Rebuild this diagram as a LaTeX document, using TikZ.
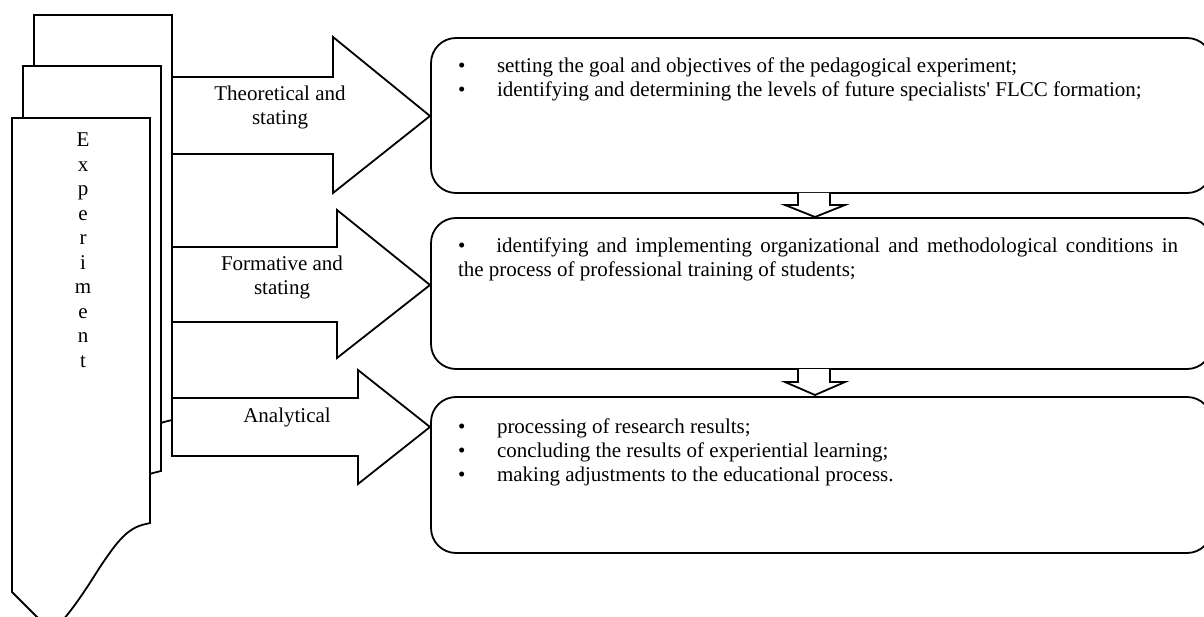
\documentclass[tikz,border=0pt]{standalone}
\usepackage{fontspec}
\setmainfont{Liberation Serif}
\begin{document}
\begin{tikzpicture}[x=1pt,y=-1pt,
  outline/.style={draw=black, line width=1.8pt, line join=miter, fill=white},
  stagebox/.style={draw=black, line width=1.8pt, rounded corners=25pt, fill=white,
    rectangle, minimum width=781pt, minimum height=155pt, outer sep=0pt, inner sep=0pt, anchor=north west},
  txt/.style={inner sep=0pt, outer sep=0pt, font=\fontsize{21}{24}\selectfont},
  vtxt/.style={inner sep=0pt, outer sep=0pt, font=\fontsize{21}{24.5}\selectfont}]
\useasboundingbox (0,0) rectangle (1204,617);
\clip (0,0) rectangle (1204,617);
% stacked pages (back, middle, front)
\foreach \dx/\dy in {22/-103, 11/-52, 0/0}{
  \path[outline, shift={(\dx,\dy)}] (12,118) -- (150,118) -- (150,523) -- (142,525)
    .. controls (125,530) and (115,545) .. (100,567)
    .. controls (88,586) and (72,612) .. (52,632) -- (12,592) -- cycle;
}
\node[vtxt, anchor=base] (exp) at (83,147) {\begin{tabular}[t]{@{}c@{}}E\\x\\p\\e\\r\\i\\m\\e\\n\\t\end{tabular}};
% block arrows
\path[outline] (172,77) -- (333,77) -- (333,37) -- (430,116) -- (333,193) -- (333,154) -- (172,154) -- cycle;
\path[outline] (172,247) -- (337,247) -- (337,210) -- (430,285) -- (337,358) -- (337,322) -- (172,322) -- cycle;
\path[outline] (172,398) -- (358,398) -- (358,370) -- (430,427) -- (358,484) -- (358,456) -- (172,456) -- cycle;
\node[txt, anchor=base] (lbl1) at (280,101) {\begin{tabular}[t]{@{}c@{}}Theoretical and\\stating\end{tabular}};
\node[txt, anchor=base] (lbl2) at (282,271) {\begin{tabular}[t]{@{}c@{}}Formative and\\stating\end{tabular}};
\node[txt, anchor=base] (lbl3) at (287,422) {Analytical};
% stage boxes
\node[stagebox] (box1) at (431,38) {};
\node[stagebox, minimum height=151pt] (box2) at (431,218) {};
\node[stagebox, minimum height=156pt] (box3) at (431,397) {};
% small down arrows
\path[outline] (798,193) -- (798,205) -- (785,205) -- (815,217) -- (845,205) -- (830,205) -- (830,193);
\path[outline] (798,369) -- (798,382) -- (785,382) -- (815,395) -- (845,382) -- (830,382) -- (830,369);
% texts
\node[txt, anchor=base west] (t1) at (458,73) {\begin{tabular}[t]{@{}p{39pt}@{}l@{}}
\textbullet & setting the goal and objectives of the pedagogical experiment;\\
\textbullet & identifying and determining the levels of future specialists\textquotesingle{} FLCC formation;
\end{tabular}};
\node[txt, anchor=base west] (t2) at (458,253) {\begin{tabular}[t]{@{}l@{}}
\makebox[720pt][s]{\textbullet\hspace*{31pt}identifying and implementing organizational and methodological conditions in}\\
the process of professional training of students;
\end{tabular}};
\node[txt, anchor=base west] (t3) at (458,433) {\begin{tabular}[t]{@{}p{39pt}@{}l@{}}
\textbullet & processing of research results;\\
\textbullet & concluding the results of experiential learning;\\
\textbullet & making adjustments to the educational process.
\end{tabular}};
\end{tikzpicture}
\end{document}
